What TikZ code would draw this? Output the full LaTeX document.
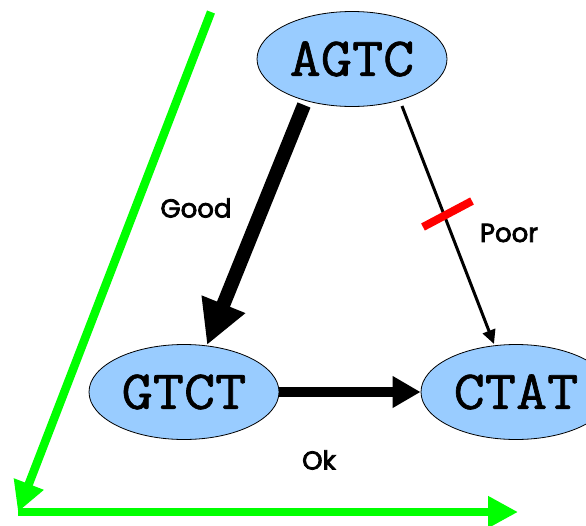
\documentclass[tikz,border=0pt]{standalone}
\usepackage{fontspec}
\setmainfont{Poppins}
\newfontfamily\labelfont{Poppins}[FakeBold=3]
\newfontfamily\seqfont{Latin Modern Mono}[FakeStretch=1.1, FakeBold=1.2]
\usetikzlibrary{arrows.meta,shapes.geometric}
\definecolor{nodeblue}{RGB}{153,204,255}
\definecolor{axisgreen}{RGB}{0,255,0}
\begin{document}
\begin{tikzpicture}[x=1pt,y=-1pt,
  seqnode/.style={ellipse, draw=black, line width=0.8pt, fill=nodeblue,
    minimum width=190pt, minimum height=95pt, inner sep=0pt,
    font=\seqfont\fontsize{55}{55}\selectfont},
  edgelabel/.style={font=\labelfont\fontsize{26}{26}\selectfont, text=black},
  axis/.style={draw=axisgreen, line width=8.5pt,
    -{Triangle[length=30pt,width=30pt]}}]
\useasboundingbox (0,0) rectangle (586,525);

% sequence nodes
\node[seqnode] (agtc) at (352,59) {AGTC};
\node[seqnode] (gtct) at (184,392) {GTCT};
\node[seqnode] (ctat) at (516,392) {CTAT};

% anchor points just off the ellipse borders
\coordinate (gstart) at (304,105);
\coordinate (gend) at (207,345);
\coordinate (pstart) at (402,106);
\coordinate (pend) at (494,344);

% edges
\draw[line width=14pt, -{Triangle[length=44pt,width=44pt]}] (gstart) -- (gend);
\draw[line width=3pt, -{Triangle[length=14pt,width=13pt]}] (pstart) -- (pend);
\draw[line width=9.5pt, -{Triangle[length=28pt,width=30pt]}] (gtct.east) -- (ctat.west);

% red cut mark on the poor edge
\coordinate (cutA) at (423,227);
\coordinate (cutB) at (472,201);
\draw[red, line width=8pt] (cutA) -- (cutB);

% edge labels
\node[edgelabel] (good) at (196,208) {Good};
\node[edgelabel] (poor) at (509,233) {Poor};
\node[edgelabel] (ok) at (319,460) {Ok};

% green axes
\coordinate (axtop) at (211,12);
\coordinate (corner) at (18,512);
\coordinate (axright) at (518,512);
\draw[axis] (axtop) -- (corner);
\draw[axis, line cap=butt] (corner) -- (axright);
\end{tikzpicture}
\end{document}
